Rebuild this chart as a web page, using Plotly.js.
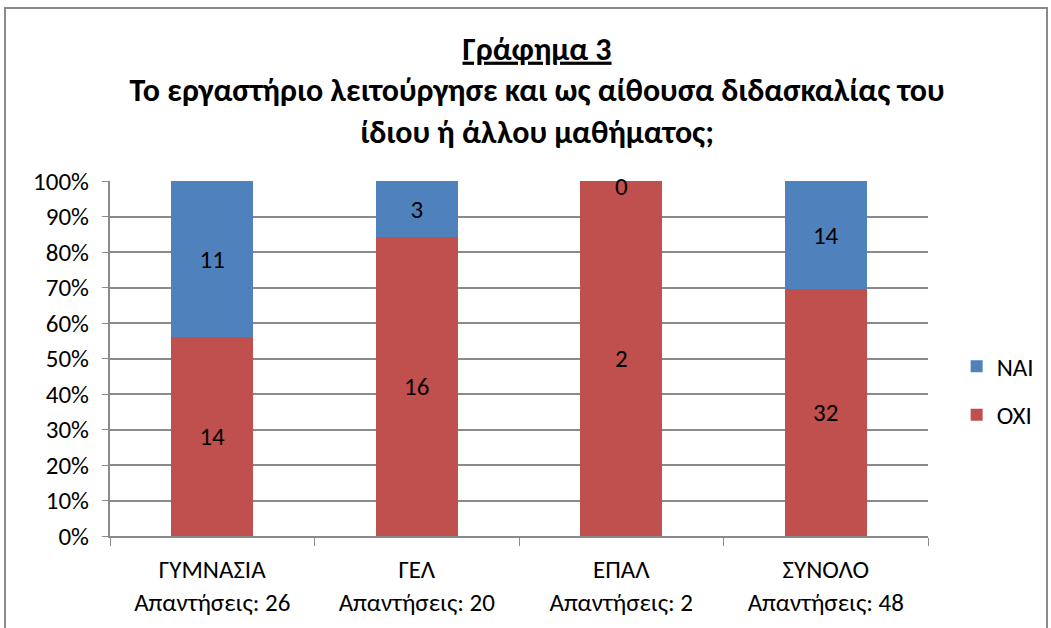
<!DOCTYPE html>
<html lang="el">
<head>
    <meta charset="UTF-8">
    <title>Γράφημα 3</title>
    <script src="https://cdn.plot.ly/plotly-3.0.1.min.js"></script>
    <style>
        body {
            margin: 0;
            background: white;
        }

        #chart {
            position: absolute;
            left: 0;
            top: 0;
            width: 1051px;
            height: 628px;
        }

        #frame {
            position: absolute;
            left: 4px;
            top: 7px;
            width: 1040px;
            height: 640px;
            border: 2px solid #8a8a8a;
            pointer-events: none;
        }
    </style>
</head>
<body>
    <div id="chart"></div>
    <div id="frame"></div>

    <script>
        // Δεδομένα του γραφήματος
        const categories = ['ΓΥΜΝΑΣΙΑ', 'ΓΕΛ', 'ΕΠΑΛ', 'ΣΥΝΟΛΟ'];
        const answers = [26, 20, 2, 48];
        const naiValues = [11, 3, 0, 14];
        const oxiValues = [14, 16, 2, 32];
        const yTicks = [0, 10, 20, 30, 40, 50, 60, 70, 80, 90, 100];

        const tickText = categories.map((c, i) => c + '<br>Απαντήσεις: ' + answers[i]);
        const baseFont = 'Calibri, Carlito, "Open Sans", sans-serif';

        const oxiTrace = {
            type: 'bar',
            name: 'ΟΧΙ',
            x: categories,
            y: oxiValues,
            text: oxiValues.map(String),
            textposition: 'inside',
            insidetextanchor: 'middle',
            textfont: { color: '#000', size: 25 },
            marker: { color: '#C0504D' },
            legendgroup: 'oxi',
            legendrank: 2,
            hoverinfo: 'x+y+name'
        };

        const naiTrace = {
            type: 'bar',
            name: 'ΝΑΙ',
            x: categories,
            y: naiValues,
            text: naiValues.map(String),
            textposition: naiValues.map(v => v === 0 ? 'none' : 'inside'),
            insidetextanchor: 'middle',
            textfont: { color: '#000', size: 25 },
            marker: { color: '#4F81BD' },
            legendgroup: 'nai',
            legendrank: 1,
            hoverinfo: 'x+y+name'
        };

        // η μηδενική τιμή δεν έχει ύψος, την γράφουμε στην κορυφή της στήλης
        const zeroLabels = [];
        naiValues.forEach((v, i) => {
            if (v !== 0) return;
            const total = v + oxiValues[i];
            zeroLabels.push({
                x: categories[i],
                y: total > 0 ? 100 : 0,
                text: String(v),
                showarrow: false,
                yanchor: 'middle',
                yshift: -5,
                font: { family: baseFont, size: 25, color: '#000' }
            });
        });

        const layout = {
            width: 1051,
            height: 628,
            margin: { l: 110, r: 121, t: 181, b: 92 },
            paper_bgcolor: 'white',
            plot_bgcolor: 'white',
            font: { family: baseFont, size: 25, color: '#000' },
            title: {
                text: '<u>Γράφημα 3</u><br>Το εργαστήριο λειτούργησε και ως αίθουσα διδασκαλίας του<br>ίδιου ή άλλου μαθήματος;',
                font: { family: baseFont, size: 32, color: '#000', weight: 'bold' },
                x: 0.511,
                xref: 'container',
                xanchor: 'center',
                y: 0.905,
                yref: 'container',
                yanchor: 'top'
            },
            annotations: zeroLabels,
            barmode: 'stack',
            barnorm: 'percent',
            bargap: 0.6,
            showlegend: true,
            legend: {
                x: 1.035,
                y: 0.41,
                xanchor: 'left',
                yanchor: 'middle',
                traceorder: 'grouped',
                tracegroupgap: 13,
                font: { family: baseFont, size: 25, color: '#000' }
            },
            xaxis: {
                type: 'category',
                tickvals: categories,
                ticktext: tickText,
                tickson: 'boundaries',
                ticks: 'outside',
                ticklen: 8,
                tickcolor: '#8a8a8a',
                ticklabelstandoff: 10,
                showline: true,
                linecolor: '#8a8a8a',
                linewidth: 2,
                showgrid: false,
                tickfont: { family: baseFont, size: 25, color: '#000' }
            },
            yaxis: {
                range: [0, 100],
                tickvals: yTicks,
                ticktext: yTicks.map(v => v + '%'),
                ticks: 'outside',
                ticklen: 6,
                tickcolor: '#8a8a8a',
                ticklabelstandoff: 8,
                showline: true,
                linecolor: '#8a8a8a',
                linewidth: 2,
                showgrid: true,
                gridcolor: '#8a8a8a',
                gridwidth: 2,
                zeroline: false,
                tickfont: { family: baseFont, size: 25, color: '#000' }
            }
        };

        Plotly.newPlot('chart', [oxiTrace, naiTrace], layout, { displayModeBar: false });
    </script>
</body>
</html>
